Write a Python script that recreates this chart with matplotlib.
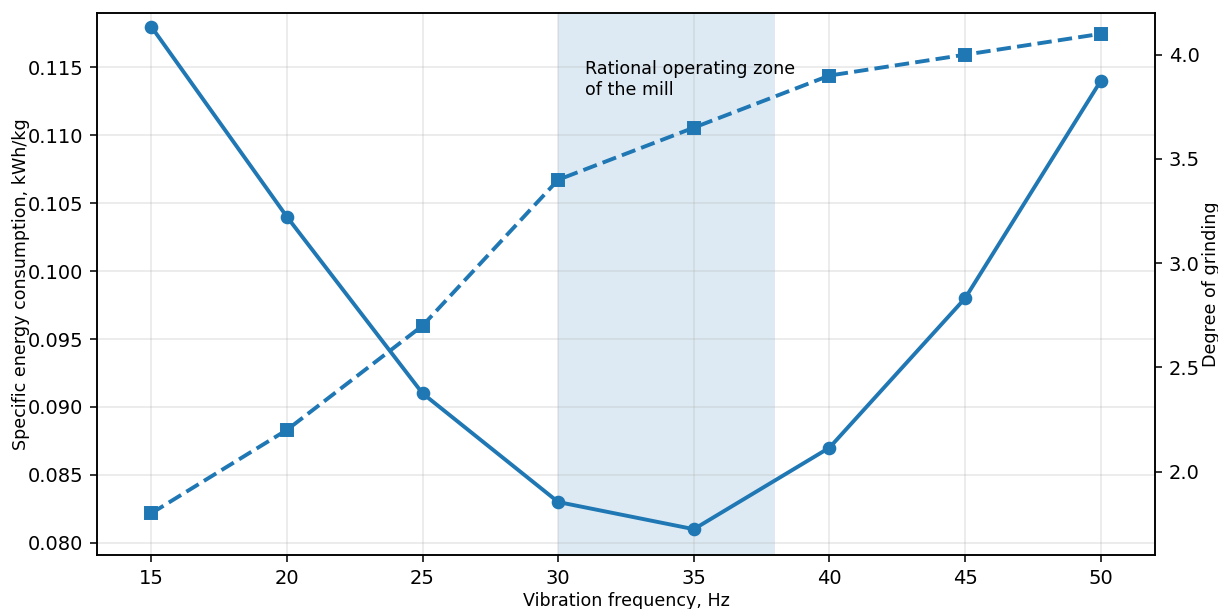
import numpy as np
import matplotlib
matplotlib.use("Agg")
import matplotlib.pyplot as plt

freq = [15, 20, 25, 30, 35, 40, 45, 50]
energy = [0.118, 0.104, 0.091, 0.083, 0.081, 0.087, 0.098, 0.114]
grinding = [1.8, 2.2, 2.7, 3.4, 3.65, 3.9, 4.0, 4.1]
zone = (30, 38)
color = '#1f77b4'

fig, ax = plt.subplots(figsize=(1218 / 140, 609 / 140), dpi=140)
fig.subplots_adjust(left=97 / 1218, right=1155 / 1218, top=1 - 13 / 609, bottom=1 - 555 / 609)

ax.axvspan(zone[0], zone[1], color=color, alpha=0.15, lw=0)
ax.plot(freq, energy, '-o', color=color, lw=2, markersize=6)
ax.set_xlim(13, 52)
ax.set_ylim(0.0791, 0.1190)
ax.set_xlabel('Vibration frequency, Hz', fontsize=9, labelpad=2)
ax.set_ylabel('Specific energy consumption, kWh/kg', fontsize=9, labelpad=-1)
ax.grid(True, alpha=0.3)
ax.text(31, 0.113, 'Rational operating zone\nof the mill', fontsize=9)

ax2 = ax.twinx()
ax2.plot(freq, grinding, '--s', color=color, lw=2, markersize=6)
ax2.set_ylim(1.6, 4.2)
ax2.set_ylabel('Degree of grinding', fontsize=9, labelpad=1)

fig.savefig('out.png', dpi=140)
